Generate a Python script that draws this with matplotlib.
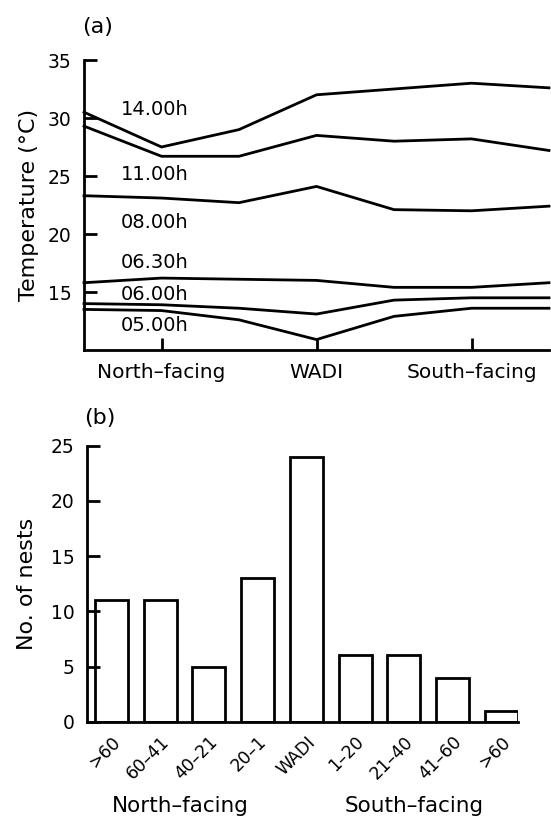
import matplotlib
matplotlib.use("Agg")
import matplotlib.pyplot as plt
import matplotlib.transforms as mtransforms

plt.rcParams['font.family'] = ['DejaVu Sans']

# ---- Panel (a) data ----
positions = [0, 1, 2, 3, 4, 5, 6]
xtick_pos = [1, 3, 5]
xtick_labels = ['North–facing', 'WADI', 'South–facing']
series_names = ['14.00h', '11.00h', '08.00h', '06.30h', '06.00h', '05.00h']
t_1400 = [30.5, 27.5, 29.0, 32.0, 32.5, 33.0, 32.6]
t_1100 = [29.3, 26.7, 26.7, 28.5, 28.0, 28.2, 27.2]
t_0800 = [23.3, 23.1, 22.7, 24.1, 22.1, 22.0, 22.4]
t_0630 = [15.8, 16.2, 16.1, 16.0, 15.4, 15.4, 15.8]
t_0600 = [14.0, 13.9, 13.6, 13.1, 14.3, 14.5, 14.5]
t_0500 = [13.5, 13.4, 12.6, 10.9, 12.9, 13.6, 13.6]
label_y = [30.7, 25.1, 21.0, 17.5, 14.8, 12.1]

# ---- Panel (b) data ----
bar_labels = ['>60', '60–41', '40–21', '20–1', 'WADI', '1–20', '21–40', '41–60', '>60']
nests = [11, 11, 5, 13, 24, 6, 6, 4, 1]
group_labels = ['North–facing', 'South–facing']

W, H = 551, 816
fig = plt.figure(figsize=(W / 100, H / 100), dpi=100)

def box(l, r, t, b):
    return [l / W, 1 - b / H, (r - l) / W, (b - t) / H]

lw = 2.0
# ---------------- Panel (a) ----------------
ax1 = fig.add_axes(box(84, 549, 60, 350))
series = [t_1400, t_1100, t_0800, t_0630, t_0600, t_0500]
for s in series:
    ax1.plot(positions, s, color='black', lw=lw, solid_joinstyle='miter', clip_on=False)
for name, ly in zip(series_names, label_y):
    ax1.text(0.48, ly, name, fontsize=14, ha='left', va='center')
ax1.set_xlim(0, 6)
ax1.set_ylim(10, 35)
ax1.set_yticks([15, 20, 25, 30, 35])
ax1.set_xticks(xtick_pos)
ax1.set_xticklabels(xtick_labels, fontsize=14.5)
ax1.tick_params(axis='y', direction='in', length=9, width=lw, labelsize=13.5, pad=9)
ax1.tick_params(axis='x', direction='in', length=9, width=lw, pad=9)
for sp in ['top', 'right']:
    ax1.spines[sp].set_visible(False)
for sp in ['left', 'bottom']:
    ax1.spines[sp].set_linewidth(lw)
ax1.set_ylabel('Temperature (°C)', fontsize=16, labelpad=6)
fig.text(82 / W, 1 - 27 / H, '(a)', fontsize=16, ha='left', va='center')

# ---------------- Panel (b) ----------------
ax2 = fig.add_axes(box(87, 518, 445.7, 721.7))
x = list(range(len(nests)))
ax2.bar(x, nests, width=0.68, facecolor='white', edgecolor='black', linewidth=lw)
ax2.set_xlim(-0.5, 8.34)
ax2.set_ylim(0, 25)
ax2.set_yticks([0, 5, 10, 15, 20, 25])
ax2.set_xticks(x)
ax2.set_xticklabels(bar_labels, rotation=45, ha='right', rotation_mode='anchor', fontsize=12.5)
offset = mtransforms.ScaledTranslation(7 / 100, 0, fig.dpi_scale_trans)
for lab in ax2.get_xticklabels():
    lab.set_transform(lab.get_transform() + offset)
ax2.tick_params(axis='y', direction='in', length=9, width=lw, labelsize=13.5, pad=9)
ax2.tick_params(axis='x', length=0, pad=8)
for sp in ['top', 'right']:
    ax2.spines[sp].set_visible(False)
for sp in ['left', 'bottom']:
    ax2.spines[sp].set_linewidth(lw)
ax2.set_ylabel('No. of nests', fontsize=16, labelpad=10)
fig.text(100 / W, 1 - 418 / H, '(b)', fontsize=16, ha='center', va='center')
fig.text(180 / W, 1 - 806 / H, group_labels[0], fontsize=15.5, ha='center', va='center')
fig.text(414 / W, 1 - 806 / H, group_labels[1], fontsize=15.5, ha='center', va='center')

fig.savefig('out.png', dpi=100, facecolor='white')
